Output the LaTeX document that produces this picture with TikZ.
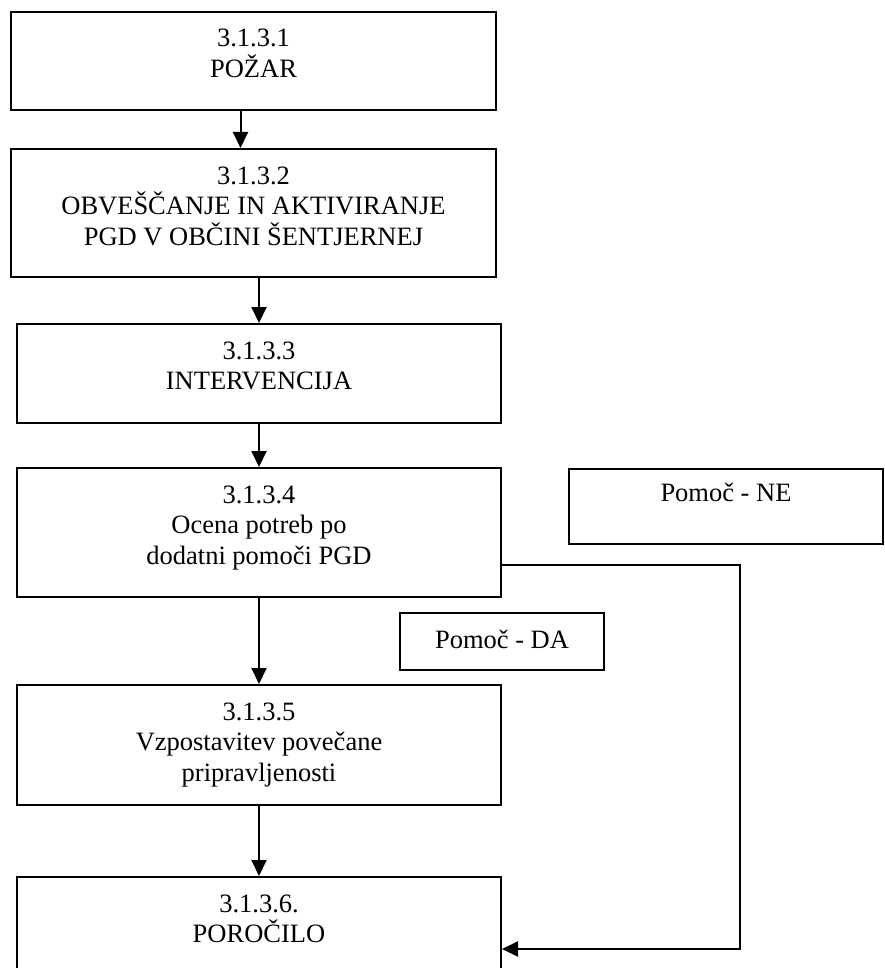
\documentclass[tikz,border=0pt]{standalone}
\usepackage{fontspec}
\setmainfont{Liberation Serif}
\usetikzlibrary{arrows.meta}

\newlength{\du}
\setlength{\du}{0.5pt}

\tikzset{
  okvir/.style={draw, line width=1pt, inner sep=0pt, anchor=north west},
  besedilo/.style={align=center, anchor=base, inner sep=0pt,
    font=\fontsize{13.25pt}{15.25pt}\selectfont},
  puscica/.style={line width=1pt, -{Triangle[length=8pt,width=7.5pt]}}
}

\begin{document}
\begin{tikzpicture}[x=1\du,y=-1\du]
\useasboundingbox (0,0) rectangle (884,968);
% okvirji
\node[okvir, minimum width=485\du, minimum height=98\du] (pozar) at (10,11) {};
\node[okvir, minimum width=485\du, minimum height=128\du] (obvescanje) at (10,148) {};
\node[okvir, minimum width=484\du, minimum height=99\du] (intervencija) at (16,323) {};
\node[okvir, minimum width=484\du, minimum height=129\du] (ocena) at (16,467) {};
\node[okvir, minimum width=314\du, minimum height=75\du] (pomocne) at (568,468) {};
\node[okvir, minimum width=204\du, minimum height=57\du] (pomocda) at (399,612) {};
\node[okvir, minimum width=484\du, minimum height=120\du] (pripravljenost) at (16,684) {};
\node[okvir, minimum width=484\du, minimum height=100\du] (porocilo) at (16,876) {};
% besedila (base = zadnja vrstica)
\node[besedilo] (pozar-t) at ([yshift=-66.5\du]pozar.north) {3.1.3.1\\POŽAR};
\node[besedilo] (obvescanje-t) at ([yshift=-97\du]obvescanje.north) {3.1.3.2\\OBVEŠČANJE IN AKTIVIRANJE\\PGD V OBČINI ŠENTJERNEJ};
\node[besedilo] (intervencija-t) at ([yshift=-66.5\du]intervencija.north) {3.1.3.3\\INTERVENCIJA};
\node[besedilo] (ocena-t) at ([yshift=-97\du]ocena.north) {3.1.3.4\\Ocena potreb po\\dodatni pomoči PGD};
\node[besedilo] (pomocne-t) at ([yshift=-33\du]pomocne.north) {Pomoč - NE};
\node[besedilo] (pomocda-t) at ([yshift=-36\du]pomocda.north) {Pomoč - DA};
\node[besedilo] (pripravljenost-t) at ([yshift=-97\du]pripravljenost.north) {3.1.3.5\\Vzpostavitev povečane\\pripravljenosti};
\node[besedilo] (porocilo-t) at ([yshift=-66.5\du]porocilo.north) {3.1.3.6.\\POROČILO};
% povezave
\draw[puscica] ([xshift=-13\du]pozar.south) -- ([xshift=-13\du]obvescanje.north);
\draw[puscica] (intervencija.north |- obvescanje.south) -- (intervencija.north);
\draw[puscica] (intervencija.south) -- (ocena.north);
\draw[puscica] (ocena.south) -- (pripravljenost.north);
\draw[puscica] (pripravljenost.south) -- (porocilo.north);
\draw[puscica] ([yshift=-32\du]ocena.east) -- ++(238,0) |- ([yshift=-22\du]porocilo.east);
\end{tikzpicture}
\end{document}
